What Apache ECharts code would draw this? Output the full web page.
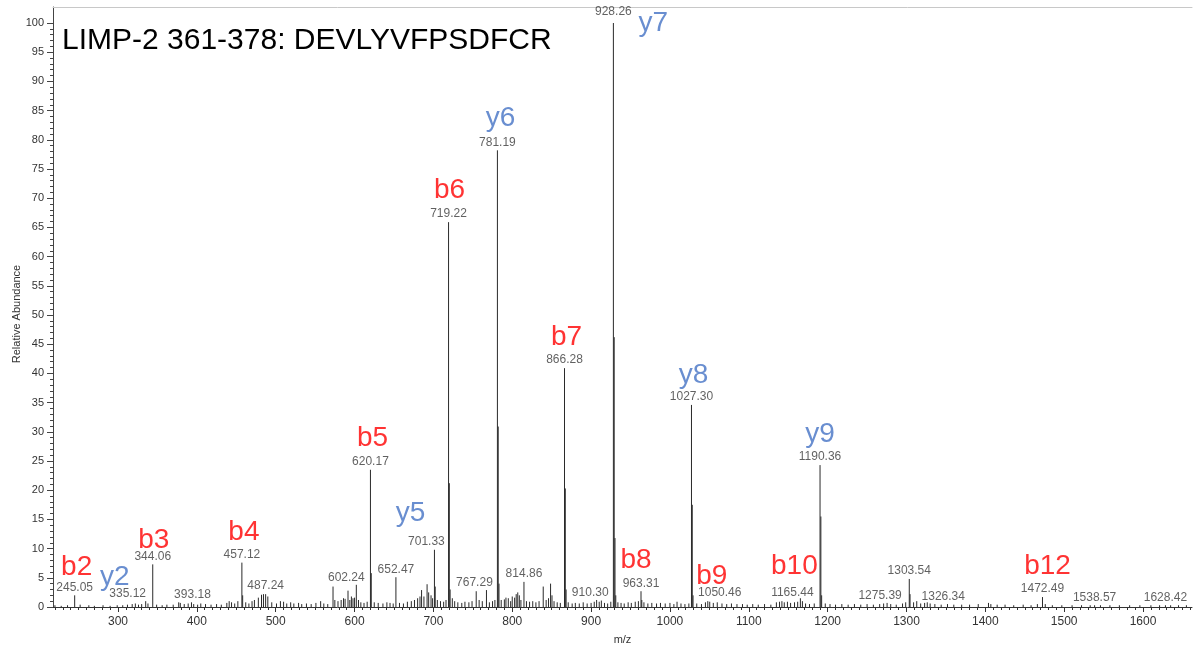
<!DOCTYPE html>
<html>
<head>
<meta charset="utf-8">
<script src="https://cdn.jsdelivr.net/npm/echarts@6/dist/echarts.min.js"></script>
<style>
html,body{margin:0;padding:0;background:#fff;}
#chart{width:1203px;height:645px;}
</style>
</head>
<body>
<div id="chart"></div>
<script>
// ---------------- DATA ----------------
const titleText = 'LIMP-2 361-378: DEVLYVFPSDFCR';

// labelled peaks: [m/z, relative abundance]
const labeledPeaks = [
  [245.05, 2.0], [335.12, 1.0], [344.06, 7.3], [393.18, 0.8], [457.12, 7.6],
  [487.24, 2.2], [602.24, 3.8], [620.17, 23.5], [652.47, 5.1], [701.33, 9.8],
  [719.22, 65.9], [767.29, 2.9], [781.19, 78.2], [814.86, 4.3], [866.28, 40.9],
  [910.30, 0.9], [928.26, 100], [963.31, 2.7], [1027.30, 34.6], [1050.46, 0.9],
  [1165.44, 1.5], [1190.36, 24.3], [1275.39, 0.7], [1303.54, 4.8], [1326.34, 0.8],
  [1472.49, 1.7], [1538.57, 0.3], [1628.42, 0.3]
];

// fragment ion annotations
const ionNames = ['b2','y2','b3','b4','b5','y5','b6','y6','b7','y7','b8','y8','b9','b10','y9','b12'];
const ionMz    = [245.05,335.12,344.06,457.12,620.17,701.33,719.22,781.19,866.28,928.26,963.31,1027.30,1050.46,1165.44,1190.36,1472.49];

// isotope / neighbour peaks
const isotopePeaks = [
  [458.1, 2.0], [621.2, 5.8], [702.3, 3.5], [720.2, 21.2], [721.2, 3.0],
  [782.2, 30.9], [783.2, 4.0], [850.4, 2.0], [867.3, 20.3], [868.3, 3.0],
  [929.3, 46.2], [930.3, 11.8], [931.3, 2.0], [964.3, 1.2], [1028.3, 17.5],
  [1029.3, 2.0], [1191.4, 15.5], [1192.4, 2.0], [1304.5, 2.2]
];

// other small peaks
const minorPeaks = [
  [478,1.6],[482,2.1],[484.5,2.2],[490,1.8],[572.7,3.5],[586,1.5],[591.7,2.8],[596,1.8],[600,1.6],[605,1.2],
  [685,2.9],[692,3.9],[694,2.5],[754.3,2.7],[795,1.5],[800,1.8],[805,2.2],[807,2.5],[839.3,3.5],[848.6,4.0],
  [1009,0.9],[1313,1.0],
  [220,0.3],[228,0.2],[236,0.3],[252,0.4],[263,0.3],[270,0.2],[281,0.3],[290,0.2],[299,0.3],[306,0.3],
  [312,0.4],[318,0.5],[322,0.6],[326,0.4],[330,0.5],[338,0.6],[349,0.4],[356,0.3],[362,0.4],[370,0.4],
  [377,0.8],[379,0.7],[384,0.5],[389,0.6],[396,0.5],[401,0.4],[405,0.6],[411,0.5],[418,0.4],[425,0.5],
  [431,0.4],[438,0.7],[441,1.0],[444,0.8],[448,0.6],[452,1.0],[462,0.8],[466,0.6],[470,1.0],[473,1.2],
  [495,0.8],[501,0.6],[506,1.0],[510,0.9],[514,0.6],[519,0.8],[523,0.6],[529,0.7],[533,0.5],[539,0.6],
  [545,0.5],[551,0.7],[557,1.0],[561,0.6],[566,0.5],[575,1.2],[579,1.0],[583,1.2],[588,1.4],[594,1.2],
  [598,1.5],[608,0.8],[612,0.7],[616,0.9],[625,0.8],[630,0.7],[636,0.6],[641,0.8],[645,0.7],[649,0.6],
  [657,0.7],[662,0.6],[667,0.9],[672,1.0],[676,1.2],[680,1.5],[683,1.8],[688,1.8],[697,2.0],[699,1.5],
  [705,1.2],[709,1.0],[713,0.9],[716,1.2],[724,1.5],[727,1.0],[731,0.8],[736,0.7],[740,0.9],[745,0.8],
  [749,1.0],[758,1.2],[762,1.0],[771,0.8],[775,1.0],[778,1.2],[786,1.2],[790,1.3],[792,1.6],[798,1.0],
  [803,1.6],[809,2.0],[811,1.2],[818,1.0],[822,0.9],[826,1.0],[830,0.8],[834,1.0],[843,1.2],[846,1.5],
  [853,1.0],[857,0.8],[861,0.7],[871,0.8],[876,0.6],[880,0.7],[885,0.6],[890,0.8],[895,0.6],[900,0.7],
  [904,0.9],[907,1.2],[913,1.1],[917,0.7],[921,0.6],[925,0.9],[934,0.8],[938,0.7],[942,0.6],[947,0.8],
  [951,0.7],[956,0.9],[960,1.0],[967,0.8],[972,0.6],[977,0.7],[983,0.6],[988,0.7],[994,0.6],[1000,0.7],
  [1005,0.5],[1014,0.6],[1019,0.5],[1024,0.6],[1034,0.6],[1040,0.5],[1045,0.8],[1048,1.0],[1055,0.7],[1060,0.8],
  [1066,0.6],[1072,0.5],[1078,0.6],[1085,0.5],[1092,0.5],[1098,0.4],[1105,0.5],[1112,0.4],[1120,0.5],[1128,0.4],
  [1135,0.8],[1139,0.9],[1142,1.0],[1145,0.8],[1149,0.9],[1153,0.7],[1158,0.8],[1162,0.9],[1168,1.0],[1172,0.6],
  [1177,0.5],[1183,0.6],[1197,0.6],[1203,0.5],[1210,0.4],[1218,0.5],[1226,0.4],[1234,0.5],[1242,0.4],[1250,0.5],
  [1258,0.4],[1266,0.5],[1271,0.6],[1280,0.5],[1287,0.4],[1295,0.6],[1299,0.8],[1309,0.8],[1318,0.6],[1323,0.7],
  [1330,0.6],[1336,0.5],[1344,0.4],[1352,0.5],[1360,0.4],[1370,0.4],[1380,0.4],[1391,0.5],[1404,0.7],[1407,0.5],
  [1415,0.4],[1425,0.4],[1436,0.3],[1448,0.4],[1458,0.3],[1466,0.5],[1476,0.5],[1485,0.3],[1497,0.3],[1510,0.3],
  [1522,0.3],[1533,0.3],[1546,0.3],[1558,0.3],[1570,0.3],[1583,0.3],[1596,0.3],[1610,0.3],[1621,0.3],[1635,0.3],
  [1645,0.3],[1655,0.3]
];

const xTickValues = [300,400,500,600,700,800,900,1000,1100,1200,1300,1400,1500,1600];
const yTickValues = [0,5,10,15,20,25,30,35,40,45,50,55,60,65,70,75,80,85,90,95,100];

// ---------------- LAYOUT (pixel offsets, styles) ----------------
const X_MIN = 217.56, X_MAX = 1662.1, Y_MAX = 102.74;
const mzLabelOffset = {
  '335.12':[-18,-7], '393.18':[1,-8], '602.24':[-10,-7], '701.33':[-8,-8], '767.29':[-12,-7],
  '910.30':[-9,-9], '928.26':[0,-11], '1050.46':[10,-9], '1165.44':[-8,-6], '1275.39':[-7,-7],
  '1326.34':[16,-6]
};
const ionOffset = {
  b2:[2,-28], y2:[-31,-24], b3:[1,-24], b4:[2,-30], b5:[2,-31], y5:[-24,-36], b6:[1,-32], y6:[3,-32],
  b7:[2,-31], y7:[40,0], b8:[-5,-31], y8:[2,-30], b9:[2,-25], b10:[-6,-32], y9:[0,-31], b12:[5,-31]
};
const RED = '#ff0000', BLUE = '#4472c4';
const FONT = 'Liberation Sans, Arial, sans-serif';

const xMinorTicks = [];
for (let v = 220; v <= 1660; v += 10) xMinorTicks.push(v);
const yMinorTicks = [];
for (let v = 0; v <= 100; v += 1) yMinorTicks.push(v);

const allSticks = labeledPeaks.concat(isotopePeaks, minorPeaks);

const mzLabelData = labeledPeaks.map(p => {
  const key = p[0].toFixed(2);
  return { value: p, name: key, label: { offset: mzLabelOffset[key] || [0,-8] } };
});
const ionData = ionNames.map((n, i) => {
  const pk = labeledPeaks.find(p => Math.abs(p[0] - ionMz[i]) < 0.001);
  return { value: [ionMz[i], pk[1]], name: n,
    label: { offset: ionOffset[n], color: n[0] === 'b' ? RED : BLUE } };
});

const chart = echarts.init(document.getElementById('chart'), null, { renderer: 'canvas' });
chart.setOption({
  animation: false,
  backgroundColor: '#fff',
  textStyle: { fontFamily: FONT },
  title: {
    text: titleText, left: 57, top: 21,
    textStyle: { fontSize: 30, fontWeight: 'normal', color: '#000', fontFamily: FONT }
  },
  grid: { left: 53, right: 11, top: 7, bottom: 38, containLabel: false, outerBoundsMode: 'none' },
  xAxis: [
    { type: 'value', min: X_MIN, max: X_MAX, position: 'bottom',
      name: 'm/z', nameLocation: 'middle', nameGap: 27, nameMoveOverlap: false,
      nameTextStyle: { fontSize: 11, color: '#333', fontFamily: FONT },
      axisLine: { show: true, lineStyle: { color: '#333', width: 1 } },
      axisTick: { show: true, length: 5, customValues: xTickValues, lineStyle: { color: '#333' } },
      axisLabel: { show: true, customValues: xTickValues, margin: 9, fontSize: 12, color: '#333', fontFamily: FONT,
        formatter: v => String(v) },
      splitLine: { show: false } },
    { type: 'value', min: X_MIN, max: X_MAX, position: 'bottom',
      axisLine: { show: false },
      axisTick: { show: true, length: 3, customValues: xMinorTicks, lineStyle: { color: '#333' } },
      axisLabel: { show: false }, splitLine: { show: false } },
    { type: 'value', min: X_MIN, max: X_MAX, position: 'top',
      axisLine: { show: true, lineStyle: { color: '#c8c8c8', width: 1 } },
      axisTick: { show: false }, axisLabel: { show: false }, splitLine: { show: false } }
  ],
  yAxis: [
    { type: 'value', min: 0, max: Y_MAX, position: 'left',
      name: 'Relative Abundance', nameLocation: 'middle', nameGap: 31, nameRotate: 90, nameMoveOverlap: false,
      nameTextStyle: { fontSize: 11, color: '#333', fontFamily: FONT, padding: [0,14,0,0] },
      axisLine: { show: true, lineStyle: { color: '#444', width: 1 } },
      axisTick: { show: true, length: 6, customValues: yTickValues, lineStyle: { color: '#444' } },
      axisLabel: { show: true, customValues: yTickValues, margin: 9, fontSize: 11, color: '#333', fontFamily: FONT },
      splitLine: { show: false } },
    { type: 'value', min: 0, max: Y_MAX, position: 'left',
      axisLine: { show: false },
      axisTick: { show: true, length: 3, customValues: yMinorTicks, lineStyle: { color: '#444' } },
      axisLabel: { show: false }, splitLine: { show: false } }
  ],
  series: [
    { type: 'custom', xAxisIndex: 0, yAxisIndex: 0, silent: true, clip: true,
      data: allSticks,
      renderItem: function (params, api) {
        const x = api.value(0), y = api.value(1);
        const p0 = api.coord([x, 0]);
        const p1 = api.coord([x, y]);
        return { type: 'line',
          shape: { x1: p0[0], y1: p0[1], x2: p1[0], y2: p1[1] },
          style: { stroke: '#2a2a2a', lineWidth: 1 } };
      } },
    { type: 'scatter', xAxisIndex: 0, yAxisIndex: 0, silent: true,
      symbolSize: 1, itemStyle: { color: 'transparent' },
      data: mzLabelData,
      label: { show: true, position: 'inside', formatter: p => p.name,
        fontSize: 12, color: '#3a3a3a', fontFamily: FONT, align: 'center', verticalAlign: 'middle' } },
    { type: 'scatter', xAxisIndex: 0, yAxisIndex: 0, silent: true,
      symbolSize: 1, itemStyle: { color: 'transparent' },
      data: ionData,
      label: { show: true, position: 'inside', formatter: p => p.name,
        fontSize: 28, fontFamily: FONT, align: 'center', verticalAlign: 'middle' } }
  ]
});
</script>
</body>
</html>
